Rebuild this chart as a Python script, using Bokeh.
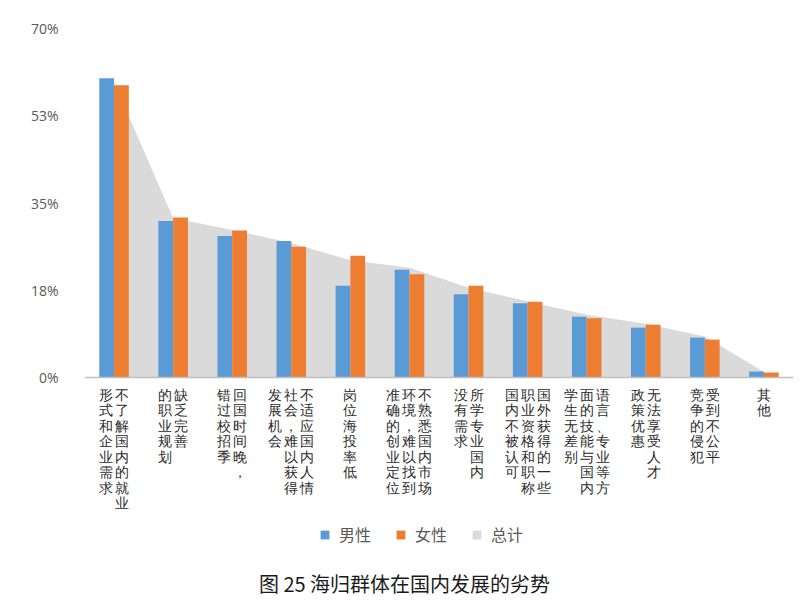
from bokeh.plotting import figure
from bokeh.models import (ColumnDataSource, FactorRange, Range1d, FixedTicker,
                          LabelSet, Label, Legend, LegendItem, Span)
from bokeh.transform import dodge
from bokeh.embed import file_html
from bokeh.resources import INLINE

# Category labels, as printed: vertical columns, read right column first
label_columns = [
    ["不了解国内的就业", "形式和企业需求"],
    ["缺乏完善", "的职业规划"],
    ["回国时间晚，", "错过校招季"],
    ["不适应国内人情", "社会，难以获得", "发展机会"],
    ["岗位海投率低"],
    ["不熟悉国内市场", "环境，难以找到", "准确的创业定位"],
    ["所学专业国内", "没有需求"],
    ["国外获得的一些", "职业资格和职称", "国内不被认可"],
    ["语言、专业等方", "面的技能与国内", "学生无差别"],
    ["无法享受人才", "政策优惠"],
    ["受到不公平", "竞争的侵犯"],
    ["其他"],
]
categories = ["".join(c) for c in label_columns]

male = [60.0, 31.4, 28.4, 27.4, 18.4, 21.6, 16.7, 14.9, 12.2, 10.0, 8.0, 1.2]
female = [58.6, 32.1, 29.5, 26.2, 24.4, 20.7, 18.4, 15.2, 11.9, 10.6, 7.6, 1.0]
total = [59.2, 32.0, 29.6, 27.0, 23.5, 22.0, 18.0, 15.3, 12.6, 10.8, 8.2, 1.1]

y_tick_values = [0, 17.5, 35, 52.5, 70]
y_tick_labels = ["0%", "18%", "35%", "53%", "70%"]

series_names = ["男性", "女性", "总计"]
chart_title = "图 25 海归群体在国内发展的劣势"

CJK = "Noto Sans CJK SC"

src = ColumnDataSource(dict(cat=categories, male=male, female=female, total=total))

# frame spans from y=28 to the bottom of the canvas; 0% sits at y≈377
px_per_unit = (377 - 28) / 70.0
y_bottom = 70 - (608 - 28) / px_per_unit

p = figure(width=808, height=608, output_backend="svg", toolbar_location=None,
           x_range=FactorRange(*categories, range_padding=0),
           y_range=Range1d(y_bottom, 70),
           min_border_left=84, min_border_right=15, min_border_top=28,
           min_border_bottom=0)
p.outline_line_color = None
p.xgrid.visible = False
p.ygrid.visible = False
p.xaxis.visible = False
p.background_fill_color = "white"
p.border_fill_color = "white"

r_total = p.varea(x="cat", y1=0, y2="total", source=src, fill_color="#DADADA")
r_male = p.vbar(x=dodge("cat", -0.125, range=p.x_range), top="male", width=0.25,
                source=src, fill_color="#5B9BD5", line_color=None)
r_female = p.vbar(x=dodge("cat", 0.125, range=p.x_range), top="female", width=0.25,
                  source=src, fill_color="#ED7D31", line_color=None)

# baseline (category axis line) at 0%
p.add_layout(Span(location=0, dimension="width", line_color="#BFBFBF", line_width=1.5))

# y axis
p.yaxis.ticker = FixedTicker(ticks=y_tick_values)
p.yaxis.major_label_overrides = {v: l for v, l in zip(y_tick_values, y_tick_labels)}
p.yaxis.axis_line_color = None
p.yaxis.major_tick_line_color = None
p.yaxis.minor_tick_line_color = None
p.yaxis.major_label_standoff = 20
p.yaxis.major_label_text_font = "Open Sans"
p.yaxis.major_label_text_font_size = "14px"
p.yaxis.major_label_text_color = "#595959"

# vertical category labels, one character per label
col_pitch = 16
row_pitch = 15.5
top_screen = 608 - 377 - 10  # screen distance from frame bottom to first row
cx, xo, yo, ch = [], [], [], []
for cat, cols in zip(categories, label_columns):
    n = len(cols)
    for j, col in enumerate(cols):
        for k, c in enumerate(col):
            cx.append(cat)
            xo.append(((n - 1) / 2 - j) * col_pitch)
            yo.append(top_screen - k * row_pitch)
            ch.append(c)
lab_src = ColumnDataSource(dict(x=cx, xo=xo, y=yo, t=ch))
labels = LabelSet(x="x", y="y", y_units="screen", x_offset="xo", text="t",
                  source=lab_src, text_align="center", text_baseline="top",
                  text_font=CJK, text_font_size="14px", text_color="#2b2b2b")
p.add_layout(labels)

legend = Legend(items=[LegendItem(label=series_names[0], renderers=[r_male]),
                       LegendItem(label=series_names[1], renderers=[r_female]),
                       LegendItem(label=series_names[2], renderers=[r_total])],
                orientation="horizontal", location=(235, 62),
                glyph_width=11, glyph_height=11, label_standoff=9, spacing=24,
                padding=0, margin=0, border_line_color=None,
                background_fill_alpha=0,
                label_text_font=CJK, label_text_font_size="16px",
                label_text_color="#595959")
p.add_layout(legend, "center")

title = Label(x=320, y=25, x_units="screen", y_units="screen", text=chart_title,
              text_align="center", text_baseline="middle", text_font=CJK,
              text_font_size="20px", text_color="#1a1a1a")
p.add_layout(title)

open("out.html", "w").write(file_html(p, INLINE))
